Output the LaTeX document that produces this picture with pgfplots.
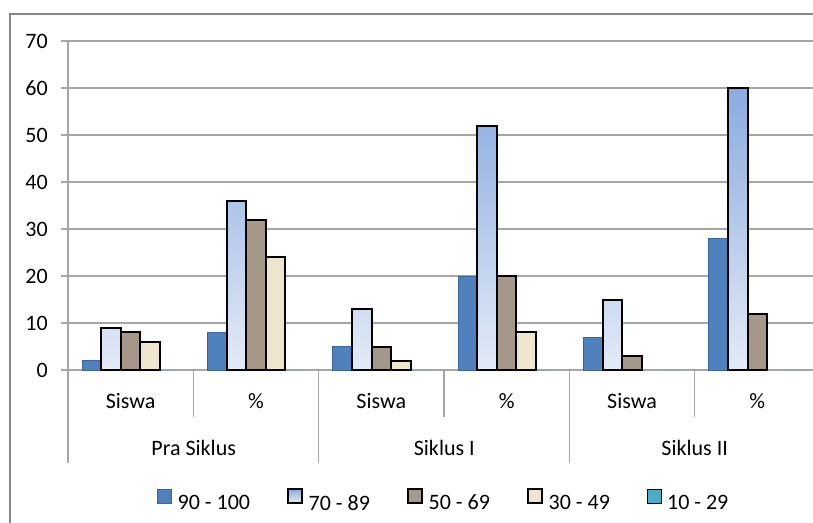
\documentclass[border=0pt]{standalone}
\usepackage{pgfplots}
\pgfplotsset{compat=1.18}
\usepackage{fontspec}
\setmainfont{Carlito}

\definecolor{c1}{HTML}{4F81BD}
\definecolor{c1line}{HTML}{3B659A}
\definecolor{c2top}{HTML}{8AABDF}
\definecolor{c2bot}{HTML}{E4EBF7}
\definecolor{c3}{HTML}{A69889}
\definecolor{c4}{HTML}{EEE5CE}
\definecolor{c5}{HTML}{4BACC6}
\definecolor{gridc}{HTML}{A6A6A6}
\definecolor{framec}{HTML}{868686}

\pgfplotsset{
  sq legend/.style={legend image code/.code={\draw[##1] (0pt,1pt) rectangle (10.5pt,11.5pt);}}
}

\begin{document}
\fontsize{16.5}{19.8}\selectfont
\begin{tikzpicture}
\useasboundingbox (0,0) rectangle (609.75pt,-391.5pt);
\clip (0,0) rectangle (609.75pt,-391.5pt);

\begin{axis}[
  at={(51pt,-277.5pt)}, anchor=south west,
  scale only axis, width=564pt, height=246.75pt,
  ybar=0pt, bar width=14.6pt,
  xmin=-0.5, xmax=5.5, ymin=0, ymax=70,
  xtick=\empty,
  ytick={0,10,...,70},
  axis x line*=bottom, axis y line*=left,
  axis line style={draw=gridc, line width=0.9pt, -},
  ymajorgrids, grid style={draw=gridc, line width=0.9pt},
  tick align=outside, major tick length=5.25pt,
  ytick style={draw=gridc, line width=0.9pt},
  yticklabel style={inner sep=0pt, xshift=-9.75pt},
  /pgf/number format/assume math mode=true,
  legend style={at={(0.5,-0.401)}, anchor=center, draw=none, fill=none,
    legend columns=-1,
    /tikz/every odd column/.append style={column sep=2.5pt},
    /tikz/every even column/.append style={column sep=25.5pt}},
  clip=false,
]
% 90 - 100
\addplot[fill=c1, draw=c1line, line width=0.5pt, sq legend] coordinates {
  (0,2) (1,8) (2,5) (3,20) (4,7) (5,28)};
% 70 - 89
\addplot[top color=c2top, bottom color=c2bot, draw=black, line width=1.5pt, sq legend] coordinates {
  (0,9) (1,36) (2,13) (3,52) (4,15) (5,60)};
% 50 - 69
\addplot[fill=c3, draw=black, line width=1.5pt, sq legend] coordinates {
  (0,8) (1,32) (2,5) (3,20) (4,3) (5,12)};
% 30 - 49 (Siklus II: 0, no bar drawn)
\addplot[fill=c4, draw=black, line width=1.5pt, sq legend] coordinates {
  (0,6) (1,24) (2,2) (3,8)};
% 10 - 29 (all 0)
\addplot[fill=c5, draw=none, sq legend] coordinates {
  (0,0) (1,0) (2,0) (3,0) (4,0) (5,0)};
\legend{90 - 100, 70 - 89, 50 - 69, 30 - 49, 10 - 29}
\end{axis}

\begin{scope}[x=0.75pt, y=-0.75pt]
  % chart frame
  \draw[framec, line width=1.5pt] (10,530) -- (10,14) -- (830,14);
  % category separators
  \foreach \k in {1,3,5}
    \draw[gridc, line width=0.9pt] ({68+125.33*\k},370) -- ({68+125.33*\k},417);
  \foreach \k in {0,2,4,6}
    \draw[gridc, line width=0.9pt] ({68+125.33*\k},370) -- ({68+125.33*\k},463);
  % category labels
  \foreach \t [count=\i from 0] in {Siswa,\%,Siswa,\%,Siswa,\%}
    \node[anchor=base] at ({68+125.33*(\i+0.5)},408.5) {\t};
  \node[anchor=base] at (193.7,455) {Pra Siklus};
  \node[anchor=base] at (444.3,455) {Siklus I};
  \node[anchor=base] at (694.7,455) {Siklus II};
\end{scope}
\end{tikzpicture}
\end{document}
